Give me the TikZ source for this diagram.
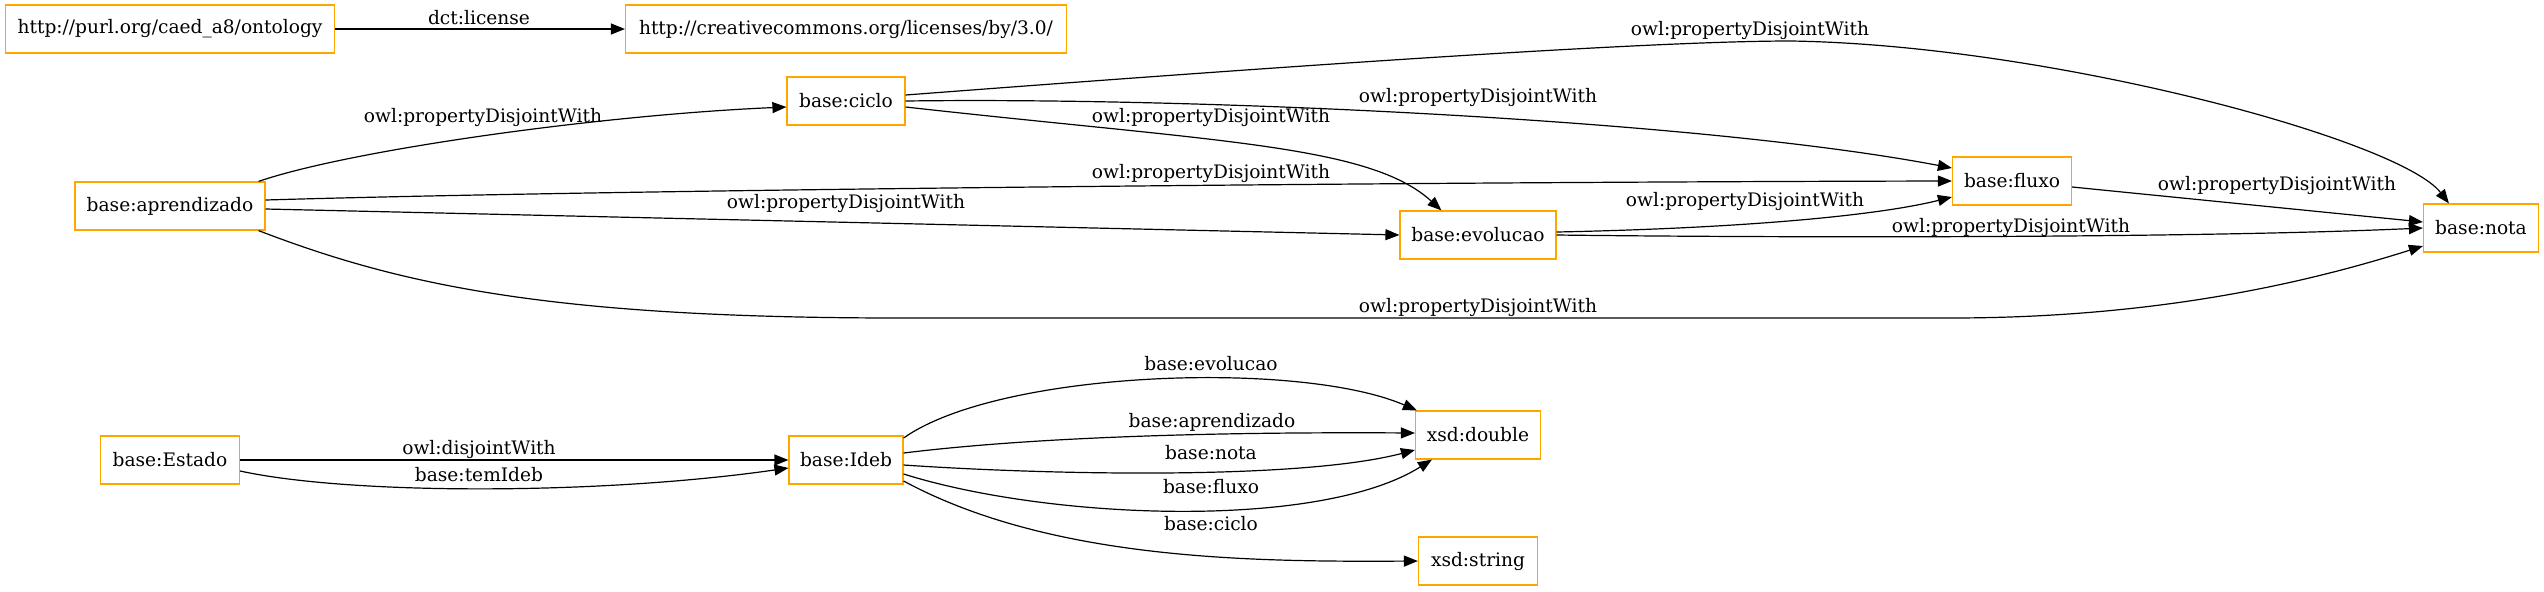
\documentclass[tikz,border=0pt]{standalone}
\usepackage{fontspec}
\setmainfont{DejaVu Serif}
\usetikzlibrary{arrows.meta}
\definecolor{gvorange}{HTML}{FFA500}
\newcommand\gvfont{\fontsize{9.3}{11}\selectfont}
\begin{document}
\begin{tikzpicture}[x=0.5pt, y=-0.5pt,
  box/.style={draw=gvorange, line width=0.6pt, minimum height=24pt, inner sep=0pt, font=\gvfont},
  lab/.style={inner sep=0pt, font=\gvfont},
  arr/.style={-{Triangle[length=7pt,width=5.5pt]}, line width=0.6pt, black}]
\useasboundingbox (0,0) rectangle (2544,591);
% nodes
\node[box, minimum width=164.5pt] (ont) at (170,29) {http://purl.org/caed\_a8/ontology};
\node[box, minimum width=220.5pt] (lic) at (846,29) {http://creativecommons.org/licenses/by/3.0/};
\node[box, minimum width=59pt] (ciclo) at (846,101) {base:ciclo};
\node[box, minimum width=95pt] (apr) at (170,206) {base:aprendizado};
\node[box, minimum width=78pt] (evo) at (1478,235) {base:evolucao};
\node[box, minimum width=59.5pt] (flu) at (2012,181) {base:fluxo};
\node[box, minimum width=57.5pt] (nota) at (2481,228) {base:nota};
\node[box, minimum width=69.5pt] (est) at (170,460) {base:Estado};
\node[box, minimum width=57pt] (ideb) at (846,460) {base:Ideb};
\node[box, minimum width=62.5pt] (dbl) at (1478,435) {xsd:double};
\node[box, minimum width=59.5pt] (str) at (1478,561) {xsd:string};
% edges
\draw[arr] (ont) -- (lic);
\draw[arr] ([xshift=-3.5pt]apr.north east) .. controls (350,150) and (600,115) .. ([yshift=-3pt]ciclo.west);
\draw[arr] ([yshift=3pt]ciclo.east) .. controls (1300,65) and (1650,41) .. (1791,41) .. controls (2050,45) and (2400,140) .. ([xshift=13pt]nota.north west);
\draw[arr] (ciclo.east) .. controls (1200,97) and (1700,120) .. ([yshift=6.5pt]flu.west);
\draw[arr] ([yshift=-3pt]ciclo.east) .. controls (1220,142) and (1370,145) .. ([xshift=21pt]evo.north west);
\draw[arr] ([yshift=3pt]apr.east) .. controls (600,190) and (1400,182) .. (flu.west);
\draw[arr] ([yshift=-1.5pt]apr.east) -- (evo.west);
\draw[arr] ([xshift=-3.5pt]apr.south east) .. controls (400,285) and (550,318) .. (900,318) -- (1950,318) .. controls (2150,318) and (2300,285) .. ([yshift=-9pt]nota.west);
\draw[arr] ([yshift=-3pt]flu.east) -- ([yshift=3pt]nota.west);
\draw[arr] ([yshift=1.5pt]evo.east) .. controls (1750,228) and (1880,215) .. ([yshift=-8pt]flu.west);
\draw[arr] (evo.east) .. controls (1800,238) and (2200,238) .. (nota.west);
\draw[arr] (est) -- (ideb);
\draw[arr] ([yshift=-5.5pt]est.east) .. controls (350,495) and (600,495) .. ([yshift=-4pt]ideb.west);
\draw[arr] ([yshift=11pt]ideb.east) .. controls (1000,370) and (1300,360) .. ([xshift=1pt]dbl.north west);
\draw[arr] ([yshift=3.5pt]ideb.east) .. controls (1050,435) and (1250,432) .. ([yshift=1pt]dbl.west);
\draw[arr] ([yshift=-2.5pt]ideb.east) .. controls (1050,475) and (1300,480) .. ([yshift=-7.5pt]dbl.west);
\draw[arr] ([yshift=-7pt]ideb.east) .. controls (1050,520) and (1320,530) .. ([xshift=8.5pt]dbl.south west);
\draw[arr] ([yshift=-10.5pt]ideb.east) .. controls (1050,560) and (1250,562) .. (str.west);
% labels
\node[lab] (l1) at (479,18) {dct:license};
\node[lab] (l2) at (483,117) {owl:propertyDisjointWith};
\node[lab] (l3) at (1750,30) {owl:propertyDisjointWith};
\node[lab] (l4) at (1478,97) {owl:propertyDisjointWith};
\node[lab] (l5) at (1211,117) {owl:propertyDisjointWith};
\node[lab] (l6) at (1211,173) {owl:propertyDisjointWith};
\node[lab] (l7) at (846,203) {owl:propertyDisjointWith};
\node[lab] (l8) at (1478,307) {owl:propertyDisjointWith};
\node[lab] (l9) at (2277,185) {owl:propertyDisjointWith};
\node[lab] (l10) at (1745,201) {owl:propertyDisjointWith};
\node[lab] (l11) at (2011,227) {owl:propertyDisjointWith};
\node[lab] (l12) at (479,449) {owl:disjointWith};
\node[lab] (l13) at (479,475) {base:temIdeb};
\node[lab] (l14) at (1211,364) {base:evolucao};
\node[lab] (l15) at (1212,422) {base:aprendizado};
\node[lab] (l16) at (1211,453) {base:nota};
\node[lab] (l17) at (1211,487) {base:fluxo};
\node[lab] (l18) at (1211,524) {base:ciclo};
\end{tikzpicture}
\end{document}
